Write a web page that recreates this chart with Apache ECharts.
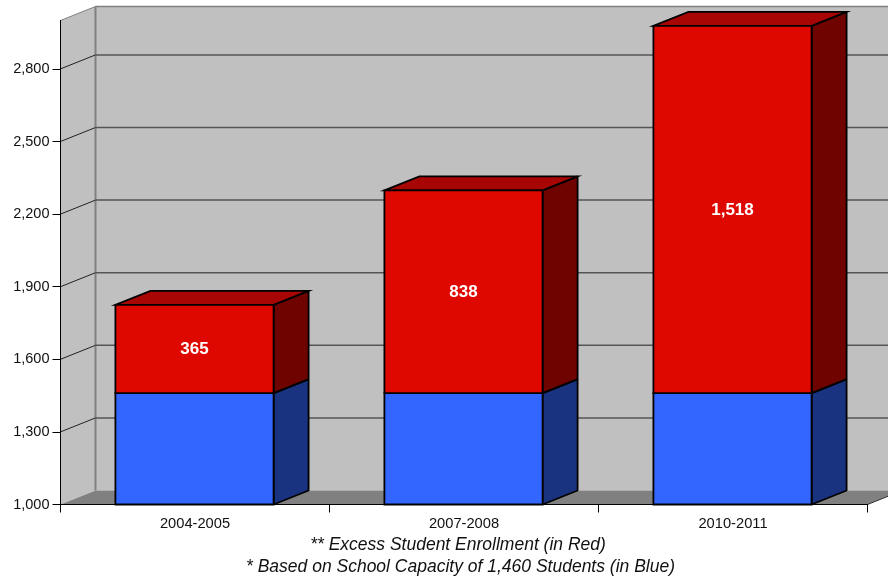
<!DOCTYPE html>
<html>
<head>
<meta charset="utf-8">
<style>html,body{margin:0;padding:0;background:#fff}#c{width:888px;height:580px}</style>
<script src="https://cdn.jsdelivr.net/npm/echarts@6/dist/echarts.min.js"></script>
</head>
<body>
<div id="c"></div>
<script>
const categories = ['2004-2005', '2007-2008', '2010-2011'];
const capacity = [1460, 1460, 1460];
const excess = [365, 838, 1518];
const tickValues = [1000, 1300, 1600, 1900, 2200, 2500, 2800];
const axisMin = 1000;
const axisMax = 3000;
const footnotes = ['** Excess Student Enrollment (in Red)', '* Based on School Capacity of 1,460 Students (in Blue)'];

const DX = 35, DY = -14, BAR_RATIO = 0.588;
const FONT = '"Liberation Sans", Arial, sans-serif';
const FOOT_X = [458, 460.5];
const fmt = v => Number(v).toLocaleString('en-US');
const chart = echarts.init(document.getElementById('c'), null, {renderer: 'canvas'});

function poly(points, fill, stroke, lw, join) {
  return {type: 'polygon', shape: {points}, style: {fill, stroke: stroke || 'none', lineWidth: lw || 0, lineJoin: join || 'miter'}};
}
function line(x1, y1, x2, y2, stroke, lw) {
  return {type: 'line', shape: {x1, y1, x2, y2}, style: {stroke, lineWidth: lw}};
}

function renderWalls(params, api) {
  const cs = params.coordSys;
  const L = cs.x, R = cs.x + cs.width, T = cs.y, B = cs.y + cs.height;
  const kids = [
    poly([[L, T], [L + DX, T + DY], [L + DX, B + DY], [L, B]], '#c0c0c0'),
    poly([[L + DX, T + DY], [R + DX, T + DY], [R + DX, B + DY], [L + DX, B + DY]], '#c0c0c0'),
    poly([[L, B], [L + DX, B + DY], [R + DX, B + DY], [R, B]], '#808080'),
    line(L, T, L + DX, T + DY, '#808080', 1),
    line(L + DX, T + DY, R + DX, T + DY, '#808080', 1.5),
    line(L + DX, T + DY, L + DX, B + DY, '#808080', 2),
    line(R, B, R + DX, B + DY, '#333333', 1)
  ];
  tickValues.forEach(v => {
    if (v === axisMin) return;
    const y = api.coord([0, v])[1];
    kids.push(line(L, y, L + DX, y + DY, '#222222', 1));
    kids.push(line(L + DX, y + DY, R + DX, y + DY, '#555555', 1.5));
  });
  return {type: 'group', children: kids};
}

function makeBar(front, side, top, labelled) {
  return function (params, api) {
    const i = api.value(0);
    const p0 = api.coord([i, api.value(1)]);
    const p1 = api.coord([i, api.value(2)]);
    const w = api.size([1, 0])[0] * BAR_RATIO;
    const xc = p0[0] - 0.5;
    const xl = xc - w / 2, xr = xc + w / 2, yb = p0[1], yt = p1[1];
    const S = '#000000', LW = 1.8;
    const kids = [
      poly([[xr, yb], [xr + DX, yb + DY], [xr + DX, yt + DY], [xr, yt]], side, S, LW, 'bevel'),
      poly([[xl, yt], [xl + DX, yt + DY], [xr + DX, yt + DY], [xr, yt]], top, S, LW, labelled ? 'miter' : 'bevel'),
      poly([[xl, yb], [xr, yb], [xr, yt], [xl, yt]], front, S, LW)
    ];
    if (labelled) {
      kids.push({type: 'text', style: {
        x: xc, y: (yb + yt) / 2 + 0.5, text: fmt(api.value(3)),
        fill: '#ffffff', font: 'bold 17px ' + FONT, align: 'center', verticalAlign: 'middle'
      }});
    }
    return {type: 'group', children: kids};
  };
}

chart.setOption({
  animation: false,
  backgroundColor: '#ffffff',
  grid: {left: 60.5, top: 20.5, width: 807, height: 484, containLabel: false},
  xAxis: {
    type: 'category', data: categories, z: 2,
    axisLine: {show: true, lineStyle: {color: '#000', width: 1}},
    axisTick: {show: true, length: 8, lineStyle: {color: '#000', width: 1}},
    axisLabel: {color: '#111', fontFamily: FONT, fontSize: 14.7, margin: 12},
    splitLine: {show: false}
  },
  yAxis: {
    type: 'value', min: axisMin, max: axisMax, z: 2,
    axisLine: {show: true, lineStyle: {color: '#000', width: 1}},
    axisTick: {show: true, length: 8, customValues: tickValues, lineStyle: {color: '#000', width: 1}},
    axisLabel: {color: '#111', fontFamily: FONT, fontSize: 14.5, margin: 11, customValues: tickValues, formatter: v => fmt(v)},
    splitLine: {show: false}
  },
  series: [
    {type: 'custom', z: 1, silent: true, renderItem: renderWalls, data: [[0, axisMin]], encode: {x: 0, y: 1}},
    {type: 'custom', z: 3, name: 'Capacity', renderItem: makeBar('#3366ff', '#1a3380', '#264dbf', false),
      data: capacity.map((v, i) => [i, axisMin, v, v]), encode: {x: 0, y: [1, 2]}},
    {type: 'custom', z: 4, name: 'Excess', renderItem: makeBar('#df0800', '#6e0300', '#a80505', true),
      data: excess.map((v, i) => [i, capacity[i], capacity[i] + v, v]), encode: {x: 0, y: [1, 2]}}
  ],
  graphic: footnotes.map((t, i) => ({
    type: 'text', z: 10, x: FOOT_X[i], y: 545.5 + i * 22,
    style: {text: t, font: 'italic 17.5px ' + FONT, fill: '#111', align: 'center', verticalAlign: 'middle'}
  }))
});
</script>
</body>
</html>
